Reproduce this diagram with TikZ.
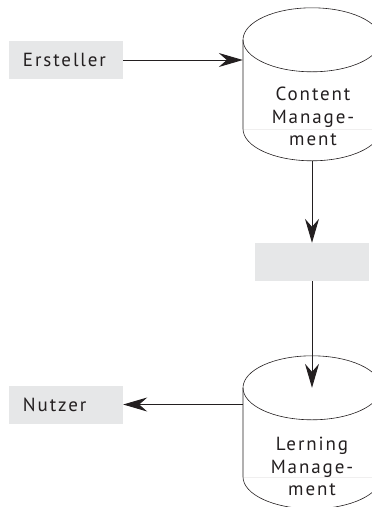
\documentclass[tikz,border=0pt]{standalone}
\usepackage{fontspec}
\setmainfont{PT Sans}
\newfontfamily\labfont[LetterSpace=10]{PT Sans}
\usetikzlibrary{arrows.meta,calc}
\definecolor{boxgray}{HTML}{E6E7E8}
\definecolor{ink}{HTML}{231F20}
\begin{document}
\begin{tikzpicture}[x=1pt,y=-1pt,
  lab/.style={font=\labfont\fontsize{19}{22.5}\selectfont, text=ink, inner sep=0pt, align=center},
  graybox/.style={fill=boxgray, minimum width=114pt, minimum height=38pt, inner ysep=0pt, inner xsep=14pt,
     text width=86pt, align=left, font=\labfont\fontsize{19}{22.5}\selectfont, text=ink},
  bodybox/.style={minimum width=138pt, minimum height=153pt, inner sep=0pt},
  flow/.style={line width=0.9pt, draw=ink, -{Stealth[length=24pt,width=14pt,inset=8pt]}},
  cyl/.style={line width=0.6pt, draw=ink},
  faint/.style={line width=0.5pt, draw=ink!7},
  pics/dbcyl/.style={code={
    \draw[faint] (-69,121) -- (69,121);
    \draw[cyl] (0,32) ellipse [x radius=69, y radius=32];
    \draw[cyl] (-69,32) -- (-69,121) arc[start angle=180, end angle=0, x radius=69, y radius=32] -- (69,32);
  }}]
\useasboundingbox (0,0) rectangle (372,507);
\clip (0,0) rectangle (372,507);

% nodes
\node[graybox] (ersteller) at (66,60) {Ersteller};
\node[bodybox] (cm) at (312,84.5) {};
\pic at (cm.north) {dbcyl};
\node[lab] (cmtext) at (313,116.5) {Content\\Manage-\\ment};

\node[graybox, text width=0pt, inner xsep=0pt] (mid) at (312,262) {};

\node[bodybox] (lm) at (312,432.5) {};
\pic at (lm.north) {dbcyl};
\node[lab] (lmtext) at (312,466.5) {Lerning\\Manage-\\ment};
\coordinate (lmtop) at ($(lm.north)+(0,32)$);

\node[graybox] (nutzer) at (66,404.5) {Nutzer};

% connectors
\draw[flow] (ersteller.east) -- (ersteller.east -| cm.west);
\draw[flow] (cm.south) -- (mid.north);
\draw[flow] (mid.south) -- (lmtop);
\draw[flow] (nutzer.east -| lm.west) -- (nutzer.east);
\end{tikzpicture}
\end{document}
